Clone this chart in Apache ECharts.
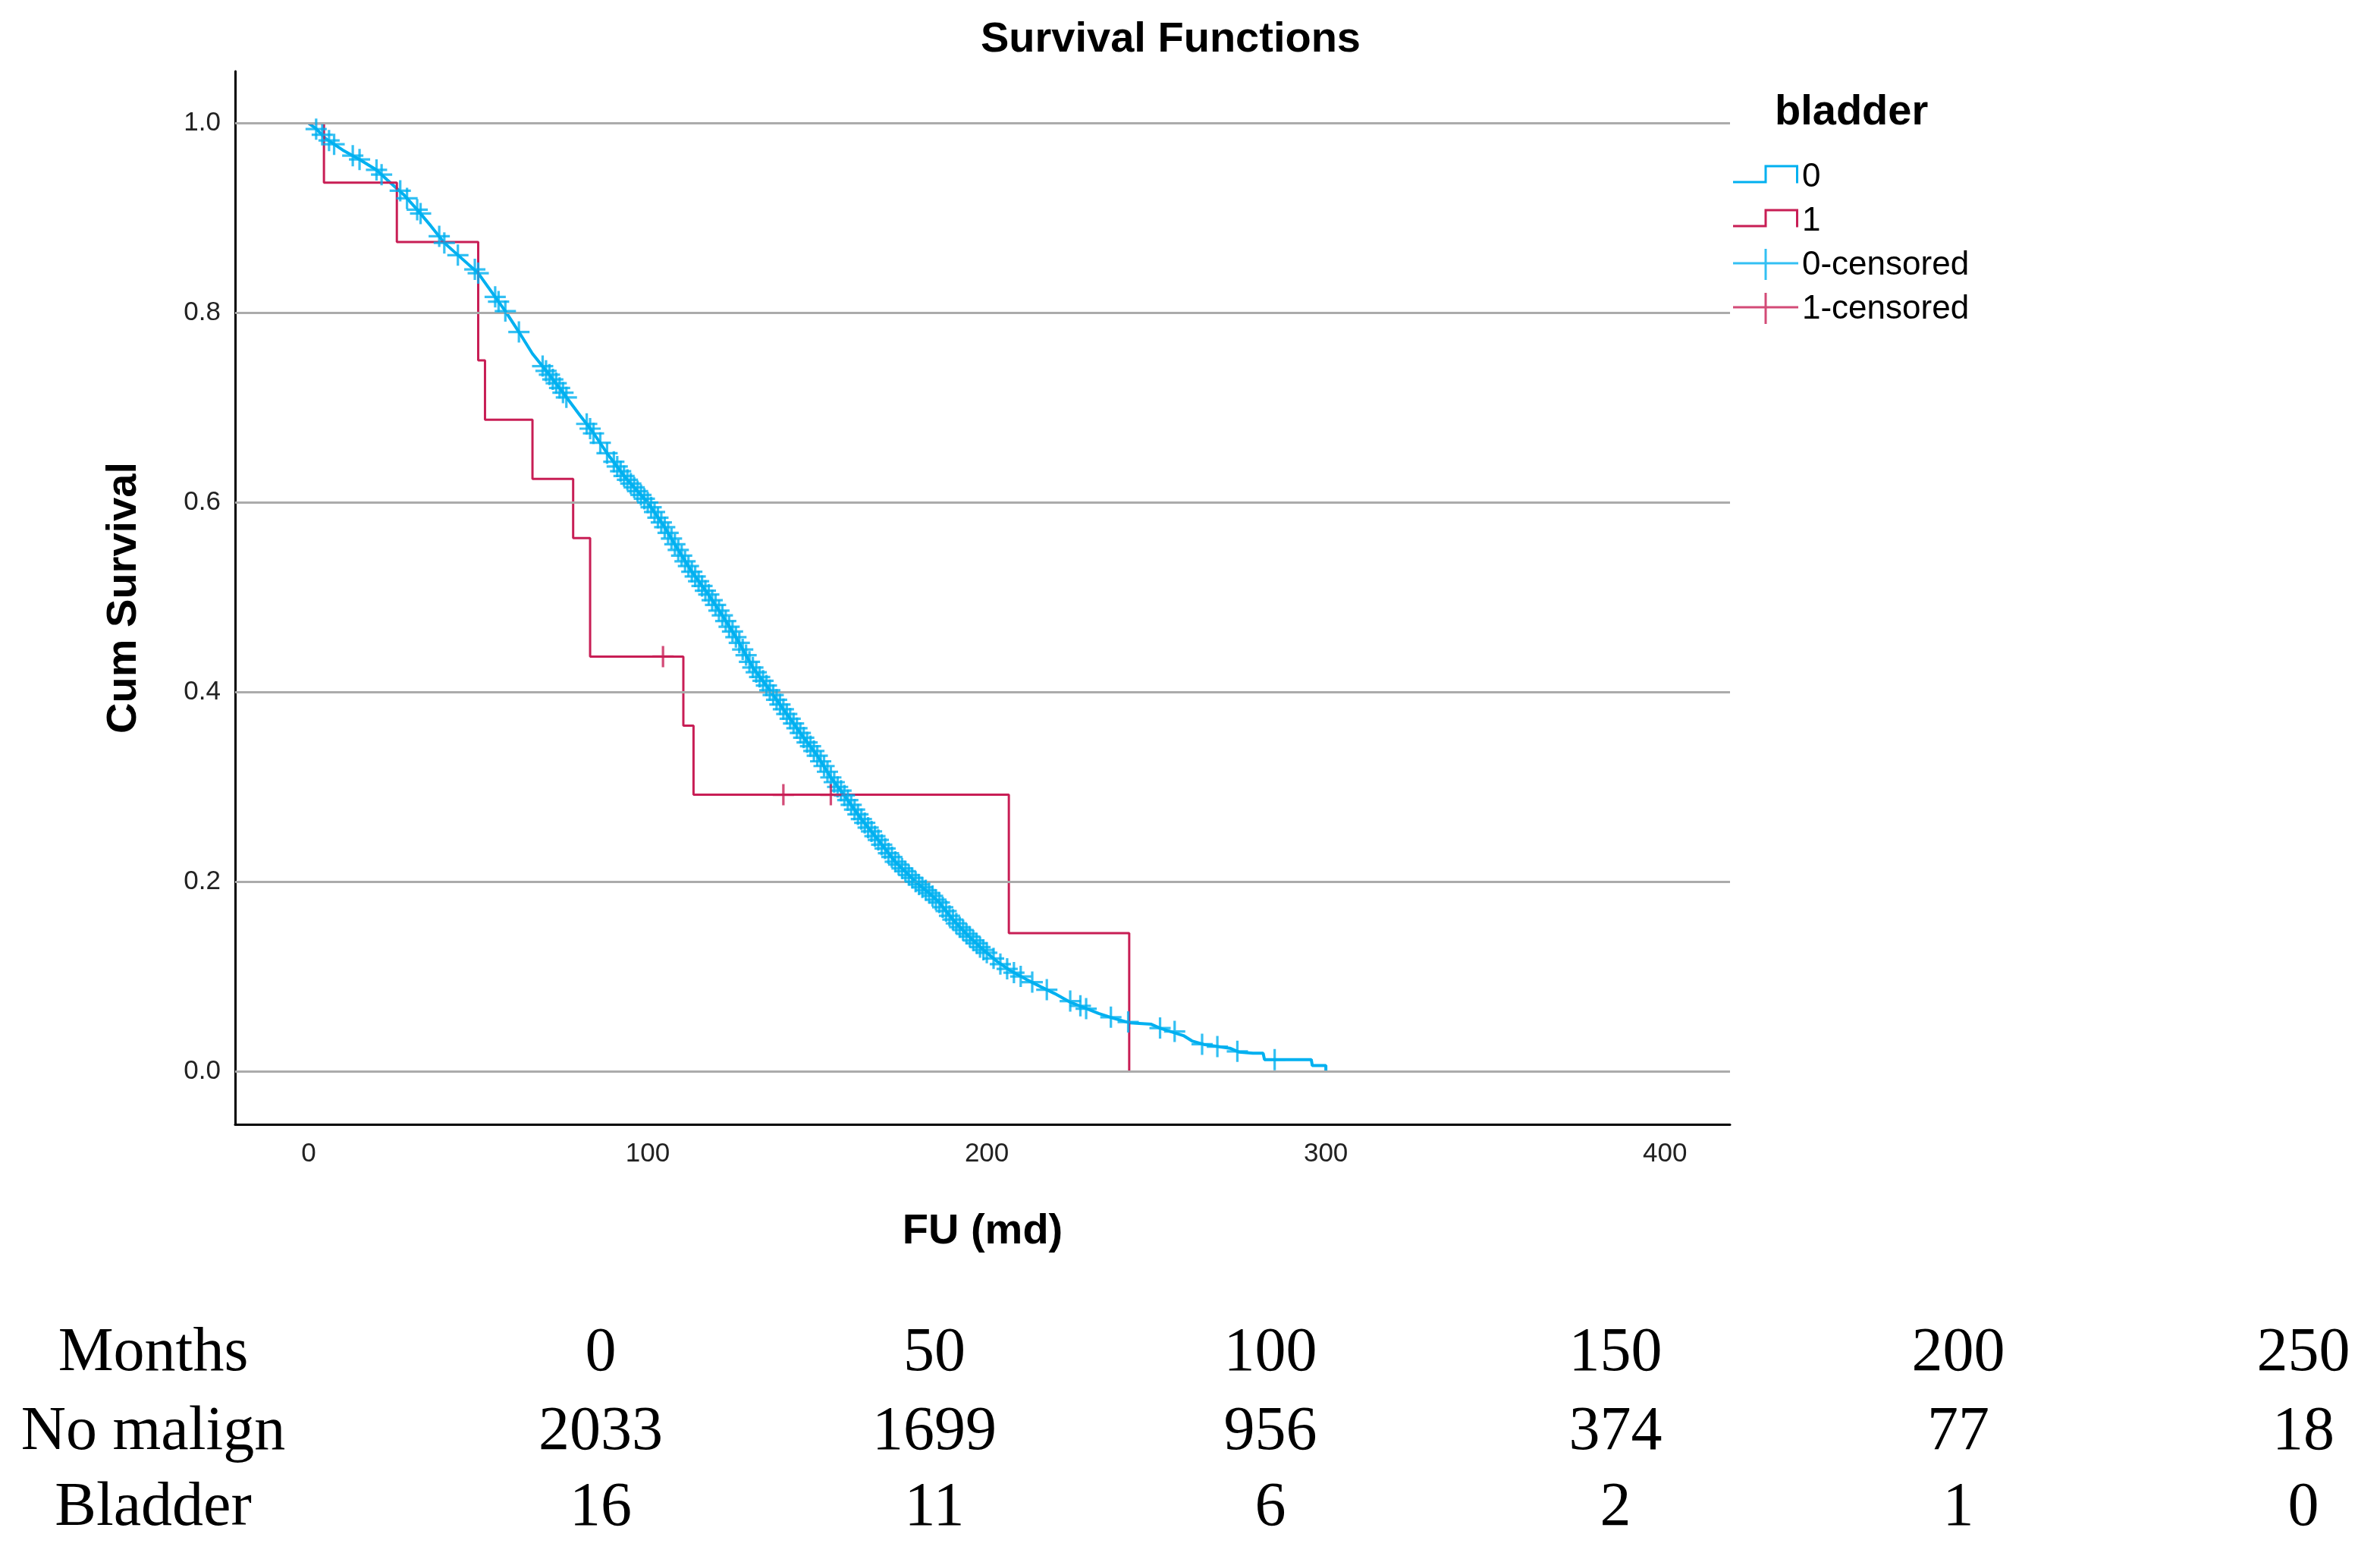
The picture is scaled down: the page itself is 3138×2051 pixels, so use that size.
<!DOCTYPE html>
<html>
<head>
<meta charset="utf-8">
<script src="https://cdn.jsdelivr.net/npm/echarts@6.0.0/dist/echarts.min.js"></script>
<style>
html,body{margin:0;padding:0;background:#fff;}
#chart{width:3138px;height:2051px;}
</style>
</head>
<body>
<div id="chart"></div>
<script>
// ---------------- DATA ----------------
const chartTitle = 'Survival Functions';
const legendTitle = 'bladder';
const xName = 'FU (md)';
const yName = 'Cum Survival';
const xTicks = [0, 100, 200, 300, 400];
const yTicks = [0, 0.2, 0.4, 0.6, 0.8, 1.0];

// bladder = 0 (Kaplan-Meier curve, [time, cum survival])
const noMalignCurve = [
  [0,1],[2,0.995],[5,0.984],[10,0.972],[15,0.962],[20,0.951],[23,0.941],[28,0.925],[32,0.909],
  [36,0.892],[40,0.874],[45,0.858],[50,0.842],[54,0.822],[58,0.802],[62,0.780],[66,0.757],
  [70.5,0.737],[75,0.716],[80,0.692],[83.5,0.676],[88,0.652],[93.5,0.626],[100,0.600],[105,0.574],
  [109,0.550],[113,0.527],[117.7,0.504],[122,0.481],[126,0.458],[131,0.426],[136.4,0.400],
  [141,0.377],[146,0.352],[150,0.333],[154,0.310],[158,0.291],[163,0.266],[168,0.244],[173,0.221],
  [179,0.200],[183,0.188],[186,0.178],[190,0.160],[194.5,0.143],[199,0.128],[203,0.116],[207,0.106],
  [211.6,0.097],[216,0.089],[220,0.082],[224.5,0.073],[228.8,0.067],[233,0.061],[237.3,0.056],
  [242.3,0.051],[248.5,0.0496],[251,0.0456],[258,0.0376],[260.5,0.032],[264,0.0283],[271.7,0.0243],
  [274.3,0.0203],[278.5,0.019],[281.5,0.019],[281.9,0.0123],[295.7,0.0123],[296,0.006],[300,0.006],[300,0]
];
// bladder = 0 censored marks
const noMalignCensored = [
  [2.2,0.994],[4,0.988],[6,0.982],[7.5,0.978],[13,0.966],[15,0.962],[20,0.951],[21.5,0.946],
  [27,0.929],[29,0.921],[32,0.909],[33,0.905],[38.5,0.881],[40,0.874],[44,0.861],[49,0.846],
  [50,0.842],[55,0.817],[56,0.812],[58,0.802],[62,0.780],[69,0.744],[70,0.739],[71,0.735],
  [72,0.730],[73,0.726],[74,0.721],[75,0.716],[76,0.711],[82,0.683],[83,0.678],[84,0.673],
  [86,0.663],[88,0.652],[90,0.643],[91,0.638],[92,0.633],[93,0.628],[94,0.624],[95,0.620],
  [96,0.616],[97,0.612],[98,0.608],[99,0.604],[100,0.600],[101,0.595],[102,0.590],[103,0.584],
  [104,0.579],[105,0.574],[106,0.568],[107,0.562],[108,0.556],[109,0.550],[110,0.544],[111,0.538],
  [112,0.533],[113,0.527],[114,0.522],[115,0.517],[116,0.512],[117,0.507],[118,0.503],[119,0.497],
  [120,0.492],[121,0.486],[122,0.481],[123,0.475],[124,0.469],[125,0.464],[126,0.458],[127,0.452],
  [128,0.445],[129,0.439],[130,0.432],[131,0.426],[132,0.421],[133,0.416],[134,0.412],[135,0.407],
  [136,0.402],[137,0.397],[138,0.392],[139,0.387],[140,0.382],[141,0.377],[142,0.372],[143,0.367],
  [144,0.362],[145,0.357],[146,0.352],[147,0.347],[148,0.343],[149,0.338],[150,0.333],[151,0.327],
  [152,0.322],[153,0.316],[154,0.310],[155,0.305],[156,0.300],[157,0.296],[158,0.291],[159,0.286],
  [160,0.281],[161,0.276],[162,0.271],[163,0.266],[164,0.262],[165,0.257],[166,0.253],[167,0.248],
  [168,0.244],[169,0.239],[170,0.235],[171,0.230],[172,0.226],[173,0.221],[174,0.218],[175,0.214],
  [176,0.211],[177,0.207],[178,0.204],[179,0.200],[180,0.197],[181,0.194],[182,0.191],[183,0.188],
  [184,0.185],[185,0.181],[186,0.178],[187,0.173],[188,0.169],[189,0.164],[190,0.160],[191,0.156],
  [192,0.152],[193,0.149],[194,0.145],[195,0.142],[196,0.138],[197,0.135],[198,0.131],[199,0.128],
  [200,0.125],[202,0.119],[204,0.113],[206,0.108],[208,0.104],[210,0.100],[213.4,0.094],[217.7,0.086],
  [224.6,0.074],[227.6,0.069],[229.3,0.066],[236.6,0.057],[241.7,0.052],[251.1,0.0456],[255.4,0.042],
  [263.5,0.0285],[268,0.026],[273.9,0.021],[284.9,0.0123]
];
// bladder = 1 (Kaplan-Meier steps)
const bladderCurve = [
  [0,1],[4.5,0.9375],[26,0.875],[50,0.75],[52,0.6875],[66,0.625],[78,0.5625],[83,0.4375],
  [110.5,0.3646],[113.5,0.2917],[206.5,0.1458],[242,0]
];
const bladderCensored = [[104.5,0.4375],[140,0.2917],[154,0.2917]];

// numbers at risk table
const riskRowLabels = ['Months', 'No malign', 'Bladder'];
const riskMonths = [0, 50, 100, 150, 200, 250];
const riskNoMalign = [2033, 1699, 956, 374, 77, 18];
const riskBladder = [16, 11, 6, 2, 1, 0];

// ---------------- STYLE / LAYOUT ----------------
const BLUE = '#00b0f0';
const RED = '#c81e55';
const SANS = '"Liberation Sans", Arial, sans-serif';
const SERIF = '"Liberation Serif", "Times New Roman", serif';

const dots = 'M0,0 h0.01 v0.01 h-0.01 Z M85.99,43.99 h0.01 v0.01 h-0.01 Z ';
const stepIcon = 'path://' + dots +
  'M0,26.5 h44.5 v3 h-44.5 Z M41.5,5.5 h3 v24 h-3 Z M41.5,5.5 h44.5 v3 h-44.5 Z M83,5.5 h3 v24 h-3 Z';
const censIcon = 'path://' + dots + 'M0,17.5 h86 v3 h-86 Z M41.5,0 h3 v41 h-3 Z';
const plusSymbol = 'path://M11.5,0 h3 v11.5 h11.5 v3 h-11.5 v11.5 h-3 v-11.5 h-11.5 v-3 h11.5 Z';

const tableColX = [792, 1232, 1675, 2130, 2582, 3037];
const tableLabelX = 202;
const tableRowY = [1784, 1888, 1988];
const tableFont = '82px ' + SERIF;

const tableRows = [riskMonths, riskNoMalign, riskBladder];
const tableGraphics = [];
riskRowLabels.forEach(function (lab, r) {
  tableGraphics.push({
    type: 'text',
    style: { text: lab, x: tableLabelX, y: tableRowY[r], font: tableFont, fill: '#000',
             align: 'center', verticalAlign: 'middle', textAlign: 'center', textVerticalAlign: 'middle' }
  });
  tableRows[r].forEach(function (v, c) {
    tableGraphics.push({
      type: 'text',
      style: { text: String(v), x: tableColX[c], y: tableRowY[r], font: tableFont, fill: '#000',
               align: 'center', verticalAlign: 'middle', textAlign: 'center', textVerticalAlign: 'middle' }
    });
  });
});

const chart = echarts.init(document.getElementById('chart'), null, { renderer: 'canvas' });
chart.setOption({
  backgroundColor: '#fff',
  animation: false,
  title: [
    { text: chartTitle, left: 1288, top: 20,
      textStyle: { fontFamily: SANS, fontSize: 56, fontWeight: 'bold', color: '#000' } },
    { text: legendTitle, left: 2335, top: 116,
      textStyle: { fontFamily: SANS, fontSize: 56, fontWeight: 'bold', color: '#000' } }
  ],
  legend: {
    orient: 'vertical', left: 2285, top: 212, padding: 0,
    itemWidth: 86, itemHeight: 44, itemGap: 14, selectedMode: false,
    itemStyle: { borderWidth: 0 },
    textStyle: { fontFamily: SANS, fontSize: 44, color: '#000', lineHeight: 44 },
    data: [
      { name: '0', icon: stepIcon },
      { name: '1', icon: stepIcon },
      { name: '0-censored', icon: censIcon },
      { name: '1-censored', icon: censIcon }
    ]
  },
  grid: { left: 310, right: 857, top: 94, bottom: 569, containLabel: false },
  xAxis: {
    type: 'value', min: -21.7, max: 419.2,
    name: xName, nameLocation: 'middle', nameGap: 114,
    nameTextStyle: { fontFamily: SANS, fontSize: 56, fontWeight: 'bold', color: '#000' },
    axisLine: { onZero: false, lineStyle: { color: '#000', width: 3 } },
    axisTick: { show: false },
    splitLine: { show: false },
    axisLabel: { customValues: xTicks, margin: 22, fontFamily: SANS, fontSize: 35, color: '#222' }
  },
  yAxis: {
    type: 'value', min: -0.056, max: 1.055,
    name: yName, nameLocation: 'middle', nameGap: 118, nameRotate: 90,
    nameTextStyle: { fontFamily: SANS, fontSize: 56, fontWeight: 'bold', color: '#000' },
    axisLine: { onZero: false, lineStyle: { color: '#000', width: 3 } },
    axisTick: { show: false },
    splitLine: { show: false },
    axisLabel: { customValues: yTicks, margin: 19, fontFamily: SANS, fontSize: 35, color: '#222',
                 formatter: function (v) { return v.toFixed(1); } }
  },
  graphic: tableGraphics,
  series: [
    {
      name: 'grid', type: 'line', data: [], z: 1, silent: true,
      markLine: {
        silent: true, symbol: ['none', 'none'], label: { show: false },
        lineStyle: { color: '#ababab', width: 3, type: 'solid' },
        emphasis: { disabled: true },
        data: yTicks.map(function (v) { return { yAxis: v }; })
      }
    },
    {
      name: '0', type: 'line', data: noMalignCurve, showSymbol: false, z: 3,
      lineStyle: { color: BLUE, width: 4 }, itemStyle: { color: BLUE }
    },
    {
      name: '1', type: 'line', step: 'end', data: bladderCurve, showSymbol: false, z: 4,
      lineStyle: { color: RED, width: 3 }, itemStyle: { color: RED }
    },
    {
      name: '0-censored', type: 'scatter', data: noMalignCensored, z: 5,
      symbol: plusSymbol, symbolSize: 28, itemStyle: { color: BLUE }
    },
    {
      name: '1-censored', type: 'scatter', data: bladderCensored, z: 6,
      symbol: plusSymbol, symbolSize: 28, itemStyle: { color: RED }
    }
  ]
});
</script>
</body>
</html>
